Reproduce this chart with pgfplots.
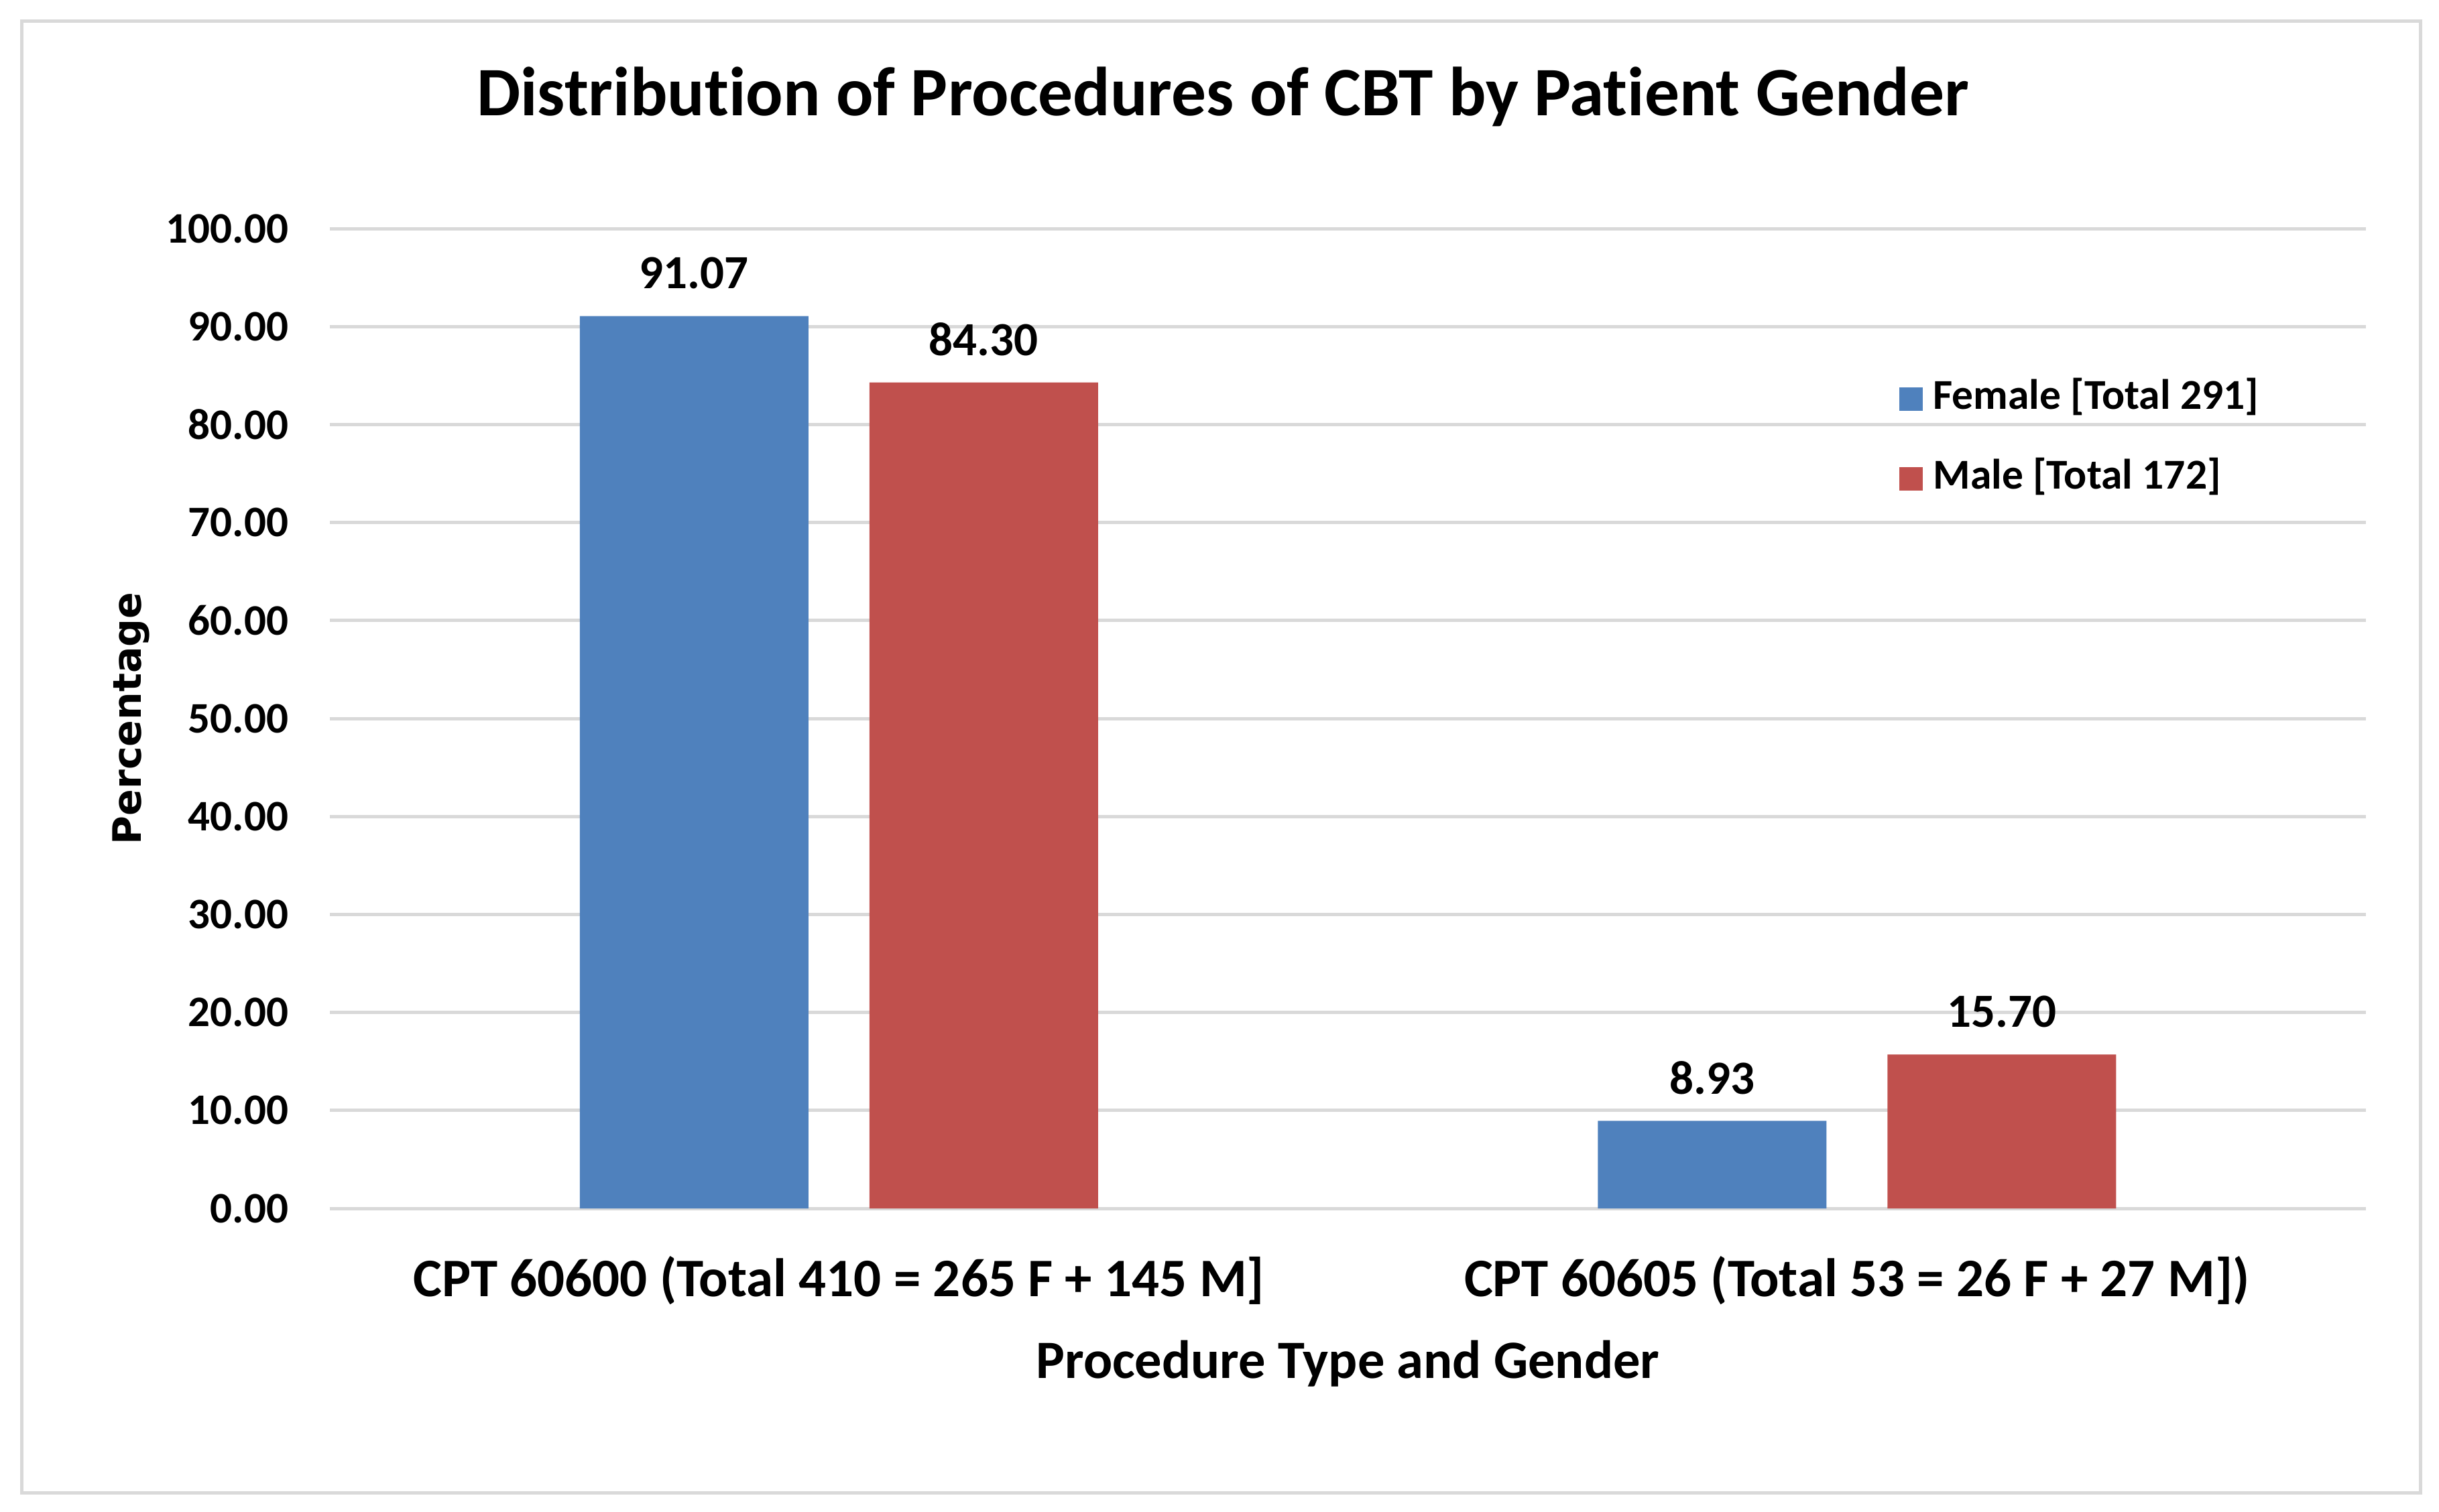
\documentclass[border=0pt]{standalone}
\usepackage{pgfplots}
\pgfplotsset{compat=1.18}
\usepackage{fontspec}
\setmainfont{Carlito}[Ligatures=NoCommon, RawFeature={-liga;-clig;-calt;-dlig}]
\newfontfamily\dejavu{DejaVu Sans}

\definecolor{femblue}{HTML}{4F81BD}
\definecolor{malered}{HTML}{C0504D}
\definecolor{gridgray}{HTML}{D9D9D9}

\begin{document}
\begin{tikzpicture}
\path[use as bounding box] (0pt,0pt) rectangle (363.8pt,225.5pt);
\draw[gridgray, line width=0.5pt] (3.2pt,2.8pt) rectangle (361.0pt,222.3pt);

\begin{axis}[
  at={(49.2pt,45.2pt)}, anchor=south west,
  scale only axis, width=303.7pt, height=146.2pt,
  ybar=9.1pt, bar width=34.1pt,
  xmin=-0.5, xmax=1.5, ymin=0, ymax=100,
  xtick=data,
  xticklabels={CPT 60600 (Total 410 = 265 F + 145 M], CPT 60605 (Total 53 = 26 F + 27 M])},
  ytick distance=10,
  major tick length=0pt,
  axis line style={draw=none},
  ymajorgrids, grid style={gridgray, line width=0.5pt},
  /pgf/number format/assume math mode=true,
  yticklabel={\pgfmathprintnumber[fixed, fixed zerofill, precision=2]{\tick}},
  yticklabel style={font=\bfseries\fontsize{6.5pt}{7pt}\selectfont, anchor=east, inner sep=0pt, xshift=-6pt},
  xticklabel style={font=\bfseries\fontsize{8.1pt}{9.6pt}\selectfont, anchor=center, inner sep=0pt, yshift=-10.8pt},
  title={Distribution of Procedures of CBT by Patient Gender},
  every axis title shift=0pt,
  title style={font=\bfseries\fontsize{10.35pt}{12pt}\selectfont, at={(axis description cs:0.4386,1.1348)}, anchor=center, inner sep=0pt},
  xlabel={Procedure Type and Gender},
  xlabel style={font=\bfseries\fontsize{8.05pt}{9.6pt}\selectfont, at={(axis description cs:0.5,-0.1587)}, anchor=center, inner sep=0pt},
  ylabel={Percentage},
  ylabel style={font=\dejavu\bfseries\fontsize{5.85pt}{7pt}\selectfont, at={(axis description cs:-0.0978,0.5)}, anchor=center, inner sep=0pt},
  nodes near coords,
  nodes near coords style={font=\bfseries\fontsize{7.1pt}{8pt}\selectfont, anchor=center, inner sep=0pt, yshift=6.4pt,
    /pgf/number format/.cd, fixed, fixed zerofill, precision=2},
  legend style={at={(axis description cs:0.7700,0.848)}, anchor=north west, draw=none, fill=none,
    font=\bfseries\fontsize{6.35pt}{7pt}\selectfont, inner sep=0pt, row sep=5.9pt, column sep=1.6pt,
    nodes={inner sep=0pt, anchor=west, text height=4.5pt, text depth=1.5pt}},
  legend cell align=left,
  legend image code/.code={\fill[#1] (0pt,-1.75pt) rectangle (3.5pt,1.75pt);},
]
\addplot[fill=femblue, draw=none] coordinates {(0,91.07) (1,8.93)};
\addplot[fill=malered, draw=none] coordinates {(0,84.30) (1,15.70)};
\legend{Female [Total 291], Male [Total 172]}
\end{axis}
\end{tikzpicture}
\end{document}
